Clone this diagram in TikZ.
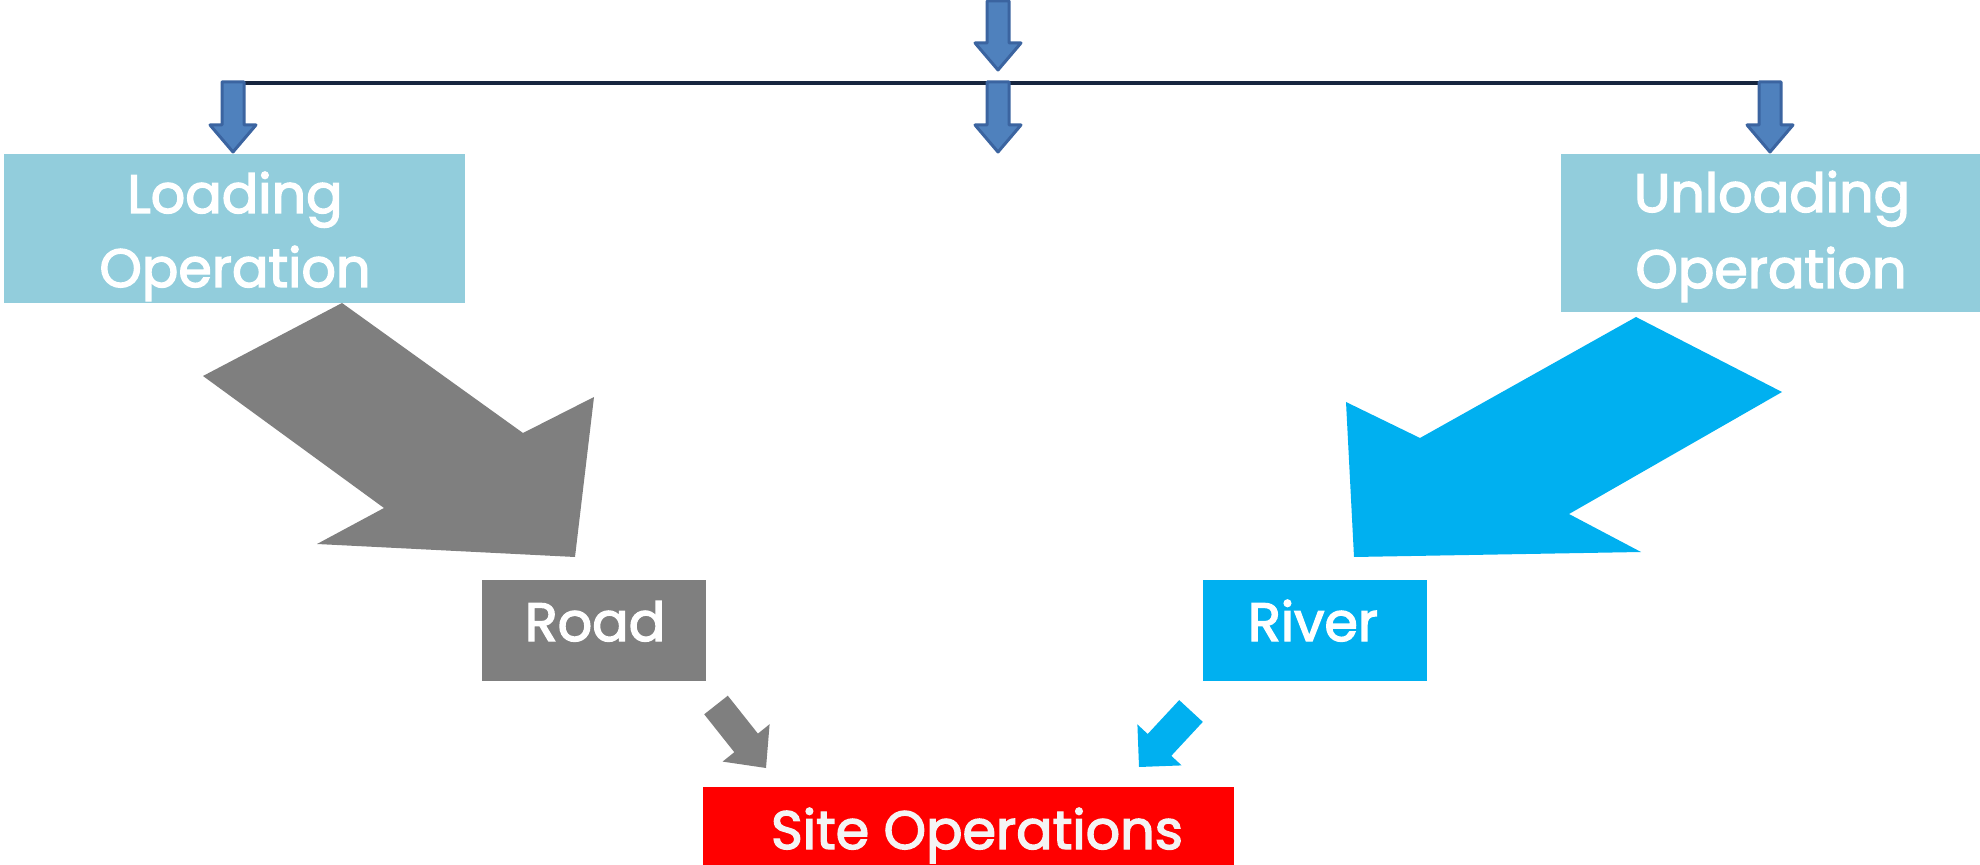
\documentclass[tikz,border=0pt]{standalone}
\usepackage{fontspec}
\setmainfont{Poppins}[FakeBold=2.6]
\usetikzlibrary{fit}
\definecolor{lightbox}{HTML}{92CDDC}
\definecolor{graybox}{HTML}{7F7F7F}
\definecolor{cyanbox}{HTML}{00B0F0}
\definecolor{redbox}{HTML}{FF0000}
\definecolor{arrowfill}{HTML}{4F81BD}
\definecolor{arrowline}{HTML}{3B64A0}
\definecolor{navy}{HTML}{17263F}
\definecolor{offwhite}{HTML}{F4F4F4}
\begin{document}
\begin{tikzpicture}[x=0.5pt,y=-0.5pt,
  box/.style={inner sep=0pt, draw=none, fill=#1},
  boxtxt/.style={inner sep=0pt, anchor=base, text=white, font=\fontsize{27}{32}\selectfont},
  toparrow/.style={fill=arrowfill, draw=arrowline, line width=1.5pt, line join=round},
  pics/downarr/.style={code={\filldraw[toparrow] (-11,0) -- (11,0) -- (11,#1-27) -- (23,#1-27) -- (0,#1) -- (-23,#1-27) -- (-11,#1-27) -- cycle;}}
]
\useasboundingbox (0,0) rectangle (1980,865);

% boxes
\node[box=lightbox, fit={(4,154) (465,303)}] (load) {};
\node[box=lightbox, fit={(1561,154) (1980,312)}] (unload) {};
\node[box=graybox, fit={(482,580) (706,681)}] (road) {};
\node[box=cyanbox, fit={(1203,580) (1427,681)}] (river) {};
\node[box=redbox, fit={(703,787) (1234,865)}] (site) {};

% texts
\node[boxtxt] (loadA) at (235,213) {Loading};
\node[boxtxt] (loadB) at (235,287) {Operation};
\node[boxtxt] (unloadA) at (1772,212) {Unloading};
\node[boxtxt] (unloadB) at (1771,288) {Operation};
\node[boxtxt] (roadT) at (595,641) {Road};
\node[boxtxt] (riverT) at (1313,641) {River};
\node[boxtxt, text=offwhite] (siteT) at (977,849) {Site Operations};

% distribution tree
\coordinate (top) at (998,1);
\coordinate (jl) at (230,83);
\coordinate (jr) at (1774,83);
\draw[navy, line width=2pt] (jl) -- (jr);
\pic at (top) {downarr=69};
\pic at (233,82) {downarr=70};
\pic at (998,82) {downarr=70};
\pic at (1770,82) {downarr=70};

% large block arrows
\fill[graybox] (342,303) -- (523,433) -- (594,397) -- (575,557) -- (317,544) -- (384,508) -- (203,376) -- cycle;
\fill[cyanbox] (1636,317) -- (1782,392) -- (1569,514) -- (1641,552) -- (1354,557) -- (1346,402) -- (1420,438) -- cycle;

% small block arrows
\fill[graybox] (727.8,695.7) -- (757.9,733.6) -- (769.6,724.2) -- (766,768) -- (722.6,761.6) -- (734.3,752.2) -- (704.2,714.3) -- cycle;
\fill[cyanbox] (1202.8,721.9) -- (1171.3,755.8) -- (1181.6,765.4) -- (1139,767) -- (1137.4,724.4) -- (1147.7,734.0) -- (1179.2,700.1) -- cycle;
\end{tikzpicture}
\end{document}
